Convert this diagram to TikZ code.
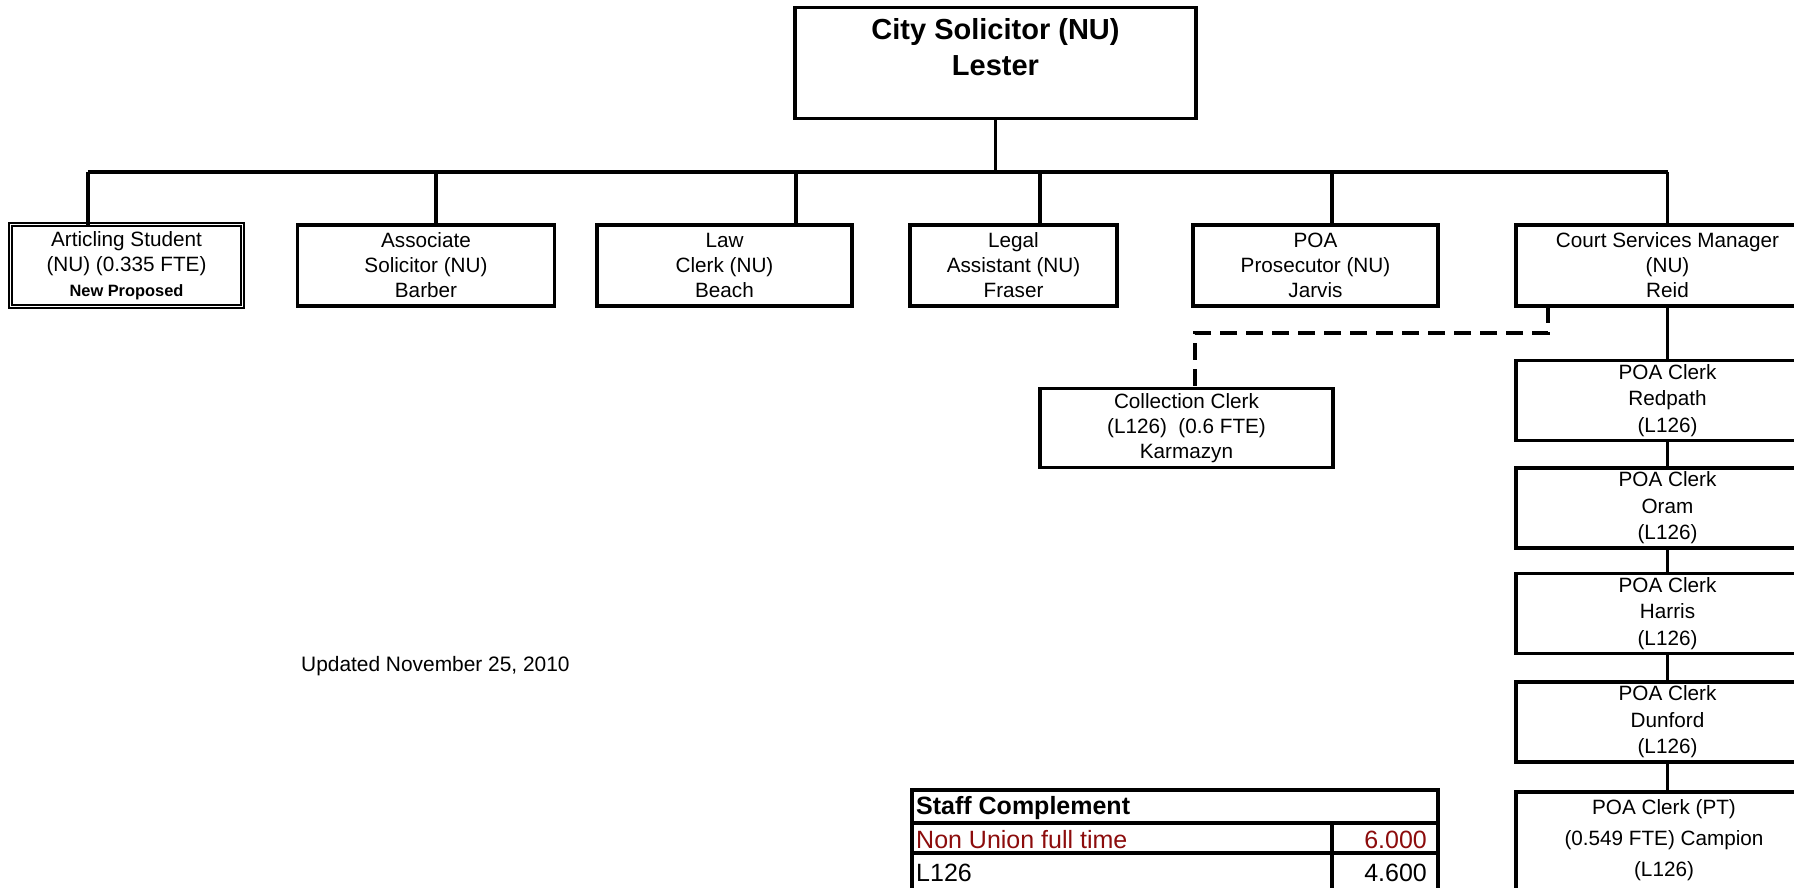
\documentclass[tikz,border=0pt]{standalone}
\usepackage{fontspec}
\setmainfont{Liberation Sans}
\usetikzlibrary{calc}
\definecolor{nured}{RGB}{140,12,12}

\tikzset{
  orgline/.style={line width=3.8pt},
  orgbox/.style={draw, line width=3.6pt, rectangle, inner sep=0pt, outer sep=0pt,
    align=center, font=\fontsize{20.7}{25}\selectfont},
  clerkbox/.style={orgbox, minimum width=303, minimum height=80,
    font=\fontsize{20.7}{26.5}\selectfont},
  dottedlink/.style={line width=3.6pt, dash pattern=on 17pt off 9pt},
  cell/.style={draw, line width=3.6pt, rectangle, inner sep=0pt, outer sep=0pt,
    anchor=north west, font=\fontsize{25}{30}\selectfont},
}

\begin{document}
\begin{tikzpicture}[x=1pt,y=-1pt]
\useasboundingbox (0,0) rectangle (1794,887);
\clip (0,0) rectangle (1794,887);
\fill[white] (0,0) rectangle (1794,887);

% head of the office
\node[orgbox, minimum width=401, minimum height=111] (sol) at (995.5,63) {};
\node[align=center, font=\fontsize{29}{35.5}\selectfont\bfseries] (soltext) at (995.5,47)
  {City Solicitor (NU)\\Lester};

% direct reports
\node[draw, rectangle, line width=1.7pt, double=white, double distance=1.7pt,
  inner sep=0pt, outer sep=0pt, minimum width=232, minimum height=82,
  align=center, font=\fontsize{20.7}{25}\selectfont] (art) at (126.5,265.5)
  {Articling Student\\(NU) (0.335 FTE)\\{\fontsize{16.4}{25}\selectfont\bfseries New Proposed}};
\node[orgbox, minimum width=257, minimum height=81] (assoc) at (426,265.5)
  {Associate\\Solicitor (NU)\\Barber};
\node[orgbox, minimum width=255, minimum height=81] (law) at (724.5,265.5)
  {Law\\Clerk (NU)\\Beach};
\node[orgbox, minimum width=207, minimum height=81] (legal) at (1013.5,265.5)
  {Legal\\Assistant (NU)\\Fraser};
\node[orgbox, minimum width=245, minimum height=81] (pros) at (1315.5,265.5)
  {POA\\Prosecutor (NU)\\Jarvis};
\node[orgbox, minimum width=303, minimum height=81] (court) at (1667.5,265.5)
  {Court Services Manager\\(NU)\\Reid};

% reporting bus
\coordinate (b1) at (88,172);
\coordinate (b2) at (436,172);
\coordinate (b3) at (796,172);
\coordinate (b4) at (1040,172);
\coordinate (b5) at (1332,172);
\coordinate (b6) at (1667.5,172);
\draw[orgline] (sol.south) -- (sol.south |- b1);
\draw[orgline] (b1) -- (b6);
\draw[orgline] (b1) -- (art.north -| b1);
\draw[orgline] (b2) -- (assoc.north -| b2);
\draw[orgline] (b3) -- (law.north -| b3);
\draw[orgline] (b4) -- (legal.north -| b4);
\draw[orgline] (b5) -- (pros.north -| b5);
\draw[orgline] (b6) -- (court.north);

% collection clerk, dotted-line report
\node[orgbox, minimum width=293, minimum height=79] (coll) at (1186.5,428)
  {Collection Clerk\\(L126)\ \ (0.6 FTE)\\Karmazyn};
\coordinate (d1) at (1548,333);
\coordinate (d2) at (1195,333);
\draw[dottedlink] (court.south -| d1) -- (d1) -- (d2) -- (coll.north -| d2);

% POA clerks
\node[clerkbox] (redpath) at (1667.5,400.5) {POA Clerk\\Redpath\\(L126)};
\node[clerkbox] (oram) at (1667.5,508) {POA Clerk\\Oram\\(L126)};
\node[clerkbox] (harris) at (1667.5,613.5) {POA Clerk\\Harris\\(L126)};
\node[clerkbox] (dunford) at (1667.5,722) {POA Clerk\\Dunford\\(L126)};
\node[clerkbox, minimum height=110, anchor=north] (campion) at (1667.5,792) {};
\node[align=center, font=\fontsize{20.7}{31}\selectfont] (campiontext) at (1664,840)
  {POA Clerk (PT)\\(0.549 FTE) Campion\\(L126)};
\draw[orgline] (court.south) -- (redpath.north);
\draw[orgline] (redpath.south) -- (oram.north);
\draw[orgline] (oram.south) -- (harris.north);
\draw[orgline] (harris.south) -- (dunford.north);
\draw[orgline] (dunford.south) -- (campion.north);

% date stamp
\node[anchor=west, inner sep=0pt, font=\fontsize{20.9}{25}\selectfont] (updated) at (301,666)
  {Updated November 25, 2010};

% staff complement table
\node[cell, minimum width=526, minimum height=33] (hdr) at (912,790) {};
\node[anchor=west, inner sep=0pt, font=\fontsize{25}{30}\selectfont\bfseries] (hdrtext)
  at ($(hdr.west)+(4,1.5)$) {Staff Complement};
\node[cell, minimum width=420, minimum height=30] (nuL) at (912,823) {};
\node[cell, minimum width=106, minimum height=30] (nuR) at (1332,823) {};
\node[anchor=west, inner sep=0pt, text=nured, font=\fontsize{25}{30}\selectfont] (nuLt)
  at ($(nuL.west)+(4,1.5)$) {Non Union full time};
\node[anchor=east, inner sep=0pt, text=nured, font=\fontsize{25}{30}\selectfont] (nuRt)
  at ($(nuR.east)+(-11,1.5)$) {6.000};
\node[cell, minimum width=420, minimum height=40] (lL) at (912,853) {};
\node[cell, minimum width=106, minimum height=40] (lR) at (1332,853) {};
\node[anchor=west, inner sep=0pt, font=\fontsize{25}{30}\selectfont] (lLt)
  at ($(lL.west)+(4,0)$) {L126};
\node[anchor=east, inner sep=0pt, font=\fontsize{25}{30}\selectfont] (lRt)
  at ($(lR.east)+(-11,0)$) {4.600};
\end{tikzpicture}
\end{document}
